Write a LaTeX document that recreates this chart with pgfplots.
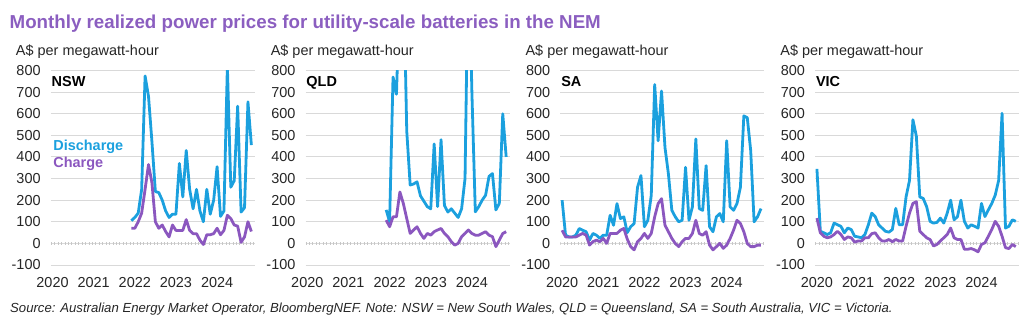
\documentclass[border=0pt]{standalone}
\usepackage{pgfplots}
\pgfplotsset{compat=1.18}
\usepackage{fontspec}
\setmainfont{Liberation Sans}
\definecolor{dis}{RGB}{27,160,222}
\definecolor{chg}{RGB}{139,87,191}
\definecolor{ttl}{RGB}{139,94,192}
\definecolor{grd}{RGB}{217,217,217}
\newcommand{\tf}{\fontsize{14.5}{16}\selectfont}
\pgfplotsset{panel/.style={
  scale only axis, width=204bp, height=194.5bp, anchor=south west,
  xmin=-0.5, xmax=59, ymin=-100, ymax=800,
  axis line style={draw=none}, major tick length=0pt, minor tick length=0pt,
  ytick={-100,0,100,200,300,400,500,600,700,800},
  yticklabels={-100,0,100,200,300,400,500,600,700,800},
  xtick={0,12,24,36,48}, xticklabels={2020,2021,2022,2023,2024},
  ymajorgrids, grid style={grd, line width=0.9bp},
  tick label style={font=\tf, text=black!85},
  yticklabel style={anchor=east, inner sep=0pt, xshift=-10bp},
  xticklabel style={anchor=base, inner sep=0pt, yshift=-22bp},
  every axis plot/.append style={line width=2.8bp, line join=round, no markers},
}}
\newcommand{\zeroline}{\draw[black!22, line width=3bp, dash pattern=on 0.8bp off 2.63bp] (axis cs:-0.5,0) -- (axis cs:59,0);}
\begin{document}
\begin{tikzpicture}
\path (0,0) rectangle (1024bp,323bp);
\node[anchor=base west, font=\bfseries\fontsize{18.8}{20}\selectfont, text=ttl, inner sep=0] at (9.5bp,294.7bp) {Monthly realized power prices for utility-scale batteries in the NEM};
\node[anchor=base west, font=\itshape\fontsize{13.2}{15}\selectfont, text=black!85, inner sep=0] at (10bp,10.7bp) {Source: Australian Energy Market Operator, BloombergNEF. Note: NSW = New South Wales, QLD = Queensland, SA = South Australia, VIC = Victoria.};
\foreach \xx in {50.8,305.6,560.4,815.2}{
  \node[anchor=base west, font=\tf, text=black!85, inner sep=0] at (\xx bp-35bp,267bp) {A\$ per megawatt-hour};
}

% NSW
\begin{axis}[panel, at={(50.8bp,58bp)}]
\zeroline
\addplot[dis] table[header=false, x expr=\coordindex+23, y index=0, row sep=\\]{
105\\120\\140\\250\\775\\680\\470\\240\\235\\200\\150\\120\\135\\135\\370\\215\\430\\250\\160\\250\\150\\100\\250\\135\\200\\355\\125\\150\\820\\260\\290\\635\\145\\165\\655\\455\\};
\addplot[chg] table[header=false, x expr=\coordindex+23, y index=0, row sep=\\]{
70\\70\\100\\140\\250\\365\\280\\100\\70\\85\\55\\30\\85\\60\\60\\60\\110\\60\\45\\45\\15\\-5\\40\\40\\45\\70\\40\\60\\130\\115\\85\\80\\5\\30\\100\\55\\};
\node[anchor=base west, font=\bfseries\tf, inner sep=0] at (axis cs:-0.3,726) {NSW};
\node[anchor=base west, font=\bfseries\tf, text=dis, inner sep=0] at (axis cs:0.2,431) {Discharge};
\node[anchor=base west, font=\bfseries\tf, text=chg, inner sep=0] at (axis cs:0.2,352) {Charge};
\end{axis}

% QLD
\begin{axis}[panel, at={(305.6bp,58bp)}]
\zeroline
\addplot[dis] table[header=false, x expr=\coordindex+23, y index=0, row sep=\\]{
155\\100\\770\\690\\1200\\1300\\520\\270\\275\\285\\220\\195\\170\\160\\460\\170\\480\\175\\145\\160\\140\\120\\160\\300\\1400\\700\\146\\170\\200\\223\\310\\323\\155\\185\\600\\400\\};
\addplot[chg] table[header=false, x expr=\coordindex+23, y index=0, row sep=\\]{
108\\77\\123\\123\\238\\185\\115\\46\\62\\77\\46\\23\\46\\38\\54\\62\\69\\46\\31\\8\\-8\\0\\31\\46\\62\\46\\38\\38\\46\\54\\38\\31\\-15\\15\\46\\54\\};
\node[anchor=base west, font=\bfseries\tf, inner sep=0] at (axis cs:-0.3,726) {QLD};
\end{axis}

% SA
\begin{axis}[panel, at={(560.4bp,58bp)}]
\zeroline
\addplot[dis] table[header=false, x expr=\coordindex, y index=0, row sep=\\]{
200\\38\\30\\30\\38\\69\\61\\54\\15\\46\\38\\23\\38\\38\\130\\84\\184\\115\\123\\50\\77\\92\\260\\314\\77\\107\\222\\735\\475\\705\\444\\322\\153\\123\\100\\107\\352\\107\\169\\483\\161\\153\\360\\77\\54\\123\\138\\100\\475\\169\\153\\184\\260\\590\\582\\430\\100\\123\\161\\};
\addplot[chg] table[header=false, x expr=\coordindex, y index=0, row sep=\\]{
61\\30\\30\\30\\30\\38\\46\\38\\-8\\8\\15\\8\\23\\0\\46\\46\\46\\61\\69\\20\\-15\\-30\\8\\23\\46\\23\\46\\123\\184\\207\\84\\54\\23\\0\\-15\\8\\23\\23\\46\\107\\46\\38\\54\\-8\\-30\\-15\\0\\-23\\-8\\23\\61\\107\\92\\54\\0\\-15\\-15\\-8\\-8\\};
\node[anchor=base west, font=\bfseries\tf, inner sep=0] at (axis cs:-0.3,726) {SA};
\end{axis}

% VIC
\begin{axis}[panel, at={(815.2bp,58bp)}]
\zeroline
\addplot[dis] table[header=false, x expr=\coordindex, y index=0, row sep=\\]{
345\\56\\49\\41\\49\\94\\86\\79\\49\\71\\64\\33\\30\\26\\41\\86\\140\\124\\86\\71\\56\\52\\64\\162\\86\\86\\215\\291\\572\\496\\215\\208\\170\\102\\94\\97\\117\\94\\140\\200\\109\\124\\200\\102\\71\\86\\79\\71\\185\\124\\155\\185\\223\\291\\602\\71\\79\\109\\102\\};
\addplot[chg] table[header=false, x expr=\coordindex, y index=0, row sep=\\]{
117\\49\\33\\26\\30\\41\\56\\41\\18\\30\\26\\6\\11\\11\\26\\26\\45\\49\\26\\11\\11\\18\\8\\18\\11\\11\\79\\140\\185\\193\\56\\41\\26\\18\\-12\\-5\\11\\26\\41\\71\\26\\18\\18\\-27\\-27\\-24\\-30\\-39\\-5\\3\\33\\64\\102\\79\\33\\-20\\-24\\-5\\-15\\};
\node[anchor=base west, font=\bfseries\tf, inner sep=0] at (axis cs:-0.3,726) {VIC};
\end{axis}
\end{tikzpicture}
\end{document}
